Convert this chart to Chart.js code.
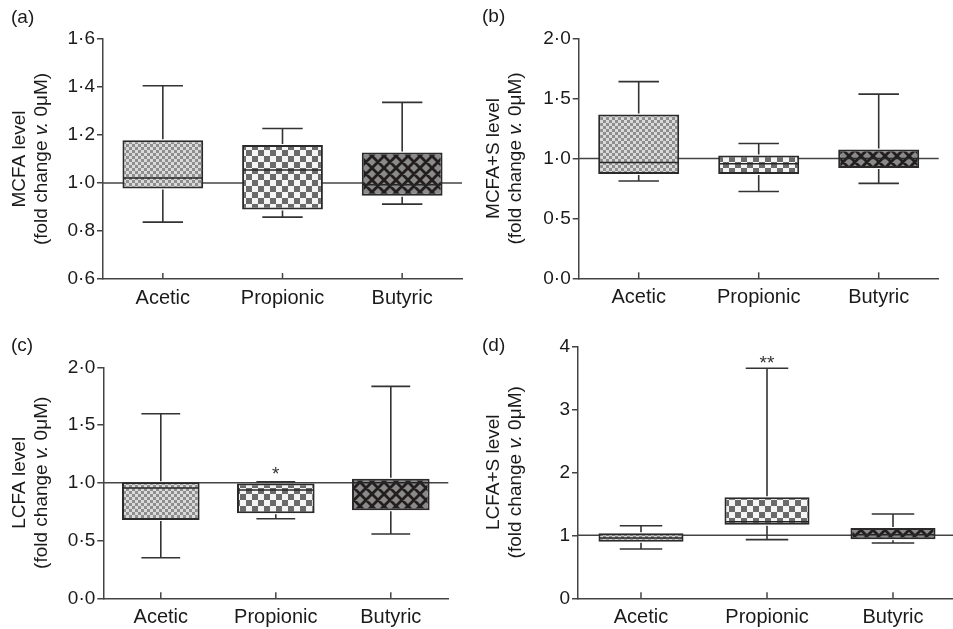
<!DOCTYPE html>
<html><head><meta charset="utf-8">
<script src="https://cdn.jsdelivr.net/npm/chart.js@4.4.0/dist/chart.umd.min.js"></script>
<style>
html,body{margin:0;padding:0;background:#fff;overflow:hidden}
#wrap{position:relative;width:953px;height:629px;overflow:hidden;background:#fff}
.p{position:absolute}
canvas{display:block}
</style></head><body>
<div id="wrap">
<div class="p" style="left:0;top:0"><canvas id="ca" width="476" height="314"></canvas></div>
<div class="p" style="left:477px;top:0"><canvas id="cb" width="476" height="314"></canvas></div>
<div class="p" style="left:0;top:314px"><canvas id="cc" width="476" height="315"></canvas></div>
<div class="p" style="left:477px;top:314px"><canvas id="cd" width="480" height="315"></canvas></div>
</div>
<script>
// ---------- DATA ----------
const categories = ['Acetic', 'Propionic', 'Butyric'];

// (a) MCFA level
const mcfaMin    = [0.837, 0.858, 0.912];
const mcfaQ1     = [0.977, 0.890, 0.947];
const mcfaMedian = [1.021, 1.054, 0.993];
const mcfaQ3     = [1.178, 1.158, 1.127];
const mcfaMax    = [1.405, 1.227, 1.336];
const mcfaStars  = ['', '', ''];

// (b) MCFA+S level
const mcfasMin    = [0.812, 0.725, 0.792];
const mcfasQ1     = [0.870, 0.870, 0.920];
const mcfasMedian = [0.967, 0.956, 1.000];
const mcfasQ3     = [1.367, 1.025, 1.075];
const mcfasMax    = [1.642, 1.125, 1.537];
const mcfasStars  = ['', '', ''];

// (c) LCFA level
const lcfaMin    = [0.351, 0.689, 0.557];
const lcfaQ1     = [0.678, 0.736, 0.762];
const lcfaMedian = [0.955, 0.938, 1.000];
const lcfaQ3     = [1.005, 0.995, 1.036];
const lcfaMax    = [1.598, 1.008, 1.835];
const lcfaStars  = ['', '*', ''];

// (d) LCFA+S level
const lcfasMin    = [0.783, 0.931, 0.878];
const lcfasQ1     = [0.899, 1.169, 0.937];
const lcfasMedian = [0.957, 1.216, 1.010];
const lcfasQ3     = [1.032, 1.603, 1.116];
const lcfasMax    = [1.152, 3.651, 1.338];
const lcfasStars  = ['', '**', ''];

// tick settings per panel [min, max, step]
const yRangeA = [0.6, 1.6, 0.2];
const yRangeB = [0.0, 2.0, 0.5];
const yRangeC = [0.0, 2.0, 0.5];
const yRangeD = [0, 4, 1];

// ---------- STYLE ----------
const FONT = '"Liberation Sans", Arial, Helvetica, sans-serif';
const TXT = '#1a1a1a';
const AX = '#444';

function makePattern(kind) {
  const c = document.createElement('canvas');
  const x = c.getContext('2d');
  if (kind === 0) {
    c.width = 6; c.height = 6;
    x.fillStyle = '#dadada'; x.fillRect(0, 0, 6, 6);
    x.fillStyle = '#8e8e8e'; x.fillRect(0, 0, 3, 3); x.fillRect(3, 3, 3, 3);
  } else if (kind === 1) {
    c.width = 12; c.height = 12;
    x.fillStyle = '#f4f4f4'; x.fillRect(0, 0, 12, 12);
    x.fillStyle = '#6a6a6a'; x.fillRect(0, 0, 6, 6); x.fillRect(6, 6, 6, 6);
  } else {
    c.width = 12; c.height = 12;
    x.fillStyle = '#8a8a8a'; x.fillRect(0, 0, 12, 12);
    x.strokeStyle = '#221e1e'; x.lineWidth = 2.8;
    x.beginPath();
    x.moveTo(-3, -3); x.lineTo(15, 15);
    x.moveTo(15, -3); x.lineTo(-3, 15);
    x.moveTo(-9, 3); x.lineTo(3, 15);
    x.moveTo(9, -3); x.lineTo(21, 9);
    x.moveTo(3, -3); x.lineTo(-9, 9);
    x.moveTo(21, 3); x.lineTo(9, 15);
    x.stroke();
  }
  return document.createElement('canvas').getContext('2d').createPattern(c, 'repeat');
}
const patterns = [makePattern(0), makePattern(1), makePattern(2)];

function fmt(v, dec) {
  return dec ? v.toFixed(dec).replace('.', '\u00B7') : String(Math.round(v));
}

const boxPlugin = {
  id: 'boxPlugin',
  beforeDatasetsDraw(chart) {
    const ctx = chart.ctx, a = chart.chartArea, y = chart.scales.y;
    const py = y.getPixelForValue(1);
    ctx.save();
    ctx.strokeStyle = AX; ctx.lineWidth = 1.5;
    ctx.beginPath(); ctx.moveTo(a.left, py); ctx.lineTo(a.right, py); ctx.stroke();
    ctx.restore();
  },
  afterDatasetsDraw(chart) {
    const o = chart.options.plugins.boxPlugin;
    const ctx = chart.ctx, a = chart.chartArea, xs = chart.scales.x, ys = chart.scales.y;
    const meta = chart.getDatasetMeta(0);
    ctx.save();
    ctx.lineCap = 'butt';
    for (let i = 0; i < categories.length; i++) {
      const cx = xs.getPixelForValue(i);
      const w = meta.data[i].width;
      const cap = w / 4;
      const pMin = ys.getPixelForValue(o.min[i]);
      const pQ1 = ys.getPixelForValue(o.q1[i]);
      const pMed = ys.getPixelForValue(o.med[i]);
      const pQ3 = ys.getPixelForValue(o.q3[i]);
      const pMax = ys.getPixelForValue(o.max[i]);
      ctx.strokeStyle = '#333'; ctx.lineWidth = 1.6;
      ctx.beginPath();
      ctx.moveTo(cx, pQ3 - 1); ctx.lineTo(cx, pMax);
      ctx.moveTo(cx - cap, pMax); ctx.lineTo(cx + cap, pMax);
      ctx.moveTo(cx, pQ1 + 1); ctx.lineTo(cx, pMin);
      ctx.moveTo(cx - cap, pMin); ctx.lineTo(cx + cap, pMin);
      ctx.stroke();
      ctx.strokeStyle = '#262626'; ctx.lineWidth = 1.5;
      ctx.beginPath();
      ctx.moveTo(cx - w / 2 + 1, pMed); ctx.lineTo(cx + w / 2 - 1, pMed);
      ctx.stroke();
      if (o.stars[i]) {
        ctx.fillStyle = '#333';
        ctx.font = '19px ' + FONT;
        ctx.textAlign = 'center'; ctx.textBaseline = 'alphabetic';
        ctx.fillText(o.stars[i], cx, pMax + o.starOff);
      }
      // inward category tick marks
      ctx.strokeStyle = AX; ctx.lineWidth = 1.5;
      ctx.beginPath(); ctx.moveTo(cx, a.bottom); ctx.lineTo(cx, a.bottom - 6); ctx.stroke();
    }
    ctx.restore();
  },
  afterDraw(chart) {
    const o = chart.options.plugins.boxPlugin;
    const ctx = chart.ctx, a = chart.chartArea;
    const cy = (a.top + a.bottom) / 2;
    ctx.save();
    ctx.fillStyle = TXT;
    ctx.font = '19px ' + FONT;
    ctx.textAlign = 'left'; ctx.textBaseline = 'middle';
    ctx.fillText(o.letter, o.letterX, o.letterY);
    ctx.translate(o.t1x, cy);
    ctx.rotate(-Math.PI / 2);
    ctx.textAlign = 'center'; ctx.textBaseline = 'middle';
    ctx.font = '19px ' + FONT;
    ctx.fillText(o.title, 0, 0);
    ctx.restore();
    ctx.save();
    ctx.fillStyle = TXT;
    ctx.translate(o.t2x, cy);
    ctx.rotate(-Math.PI / 2);
    ctx.textBaseline = 'middle'; ctx.textAlign = 'left';
    const parts = [['(fold change ', '19px ' + FONT], ['v.', 'italic 19px ' + FONT], [' 0\u03BCM)', '19px ' + FONT]];
    let total = 0;
    parts.forEach(p => { ctx.font = p[1]; total += ctx.measureText(p[0]).width; });
    let x = -total / 2;
    parts.forEach(p => { ctx.font = p[1]; ctx.fillText(p[0], x, 0); x += ctx.measureText(p[0]).width; });
    ctx.restore();
  }
};

function makeChart(id, w, h, area, range, dec, stats, meta) {
  new Chart(document.getElementById(id), {
    type: 'bar',
    data: {
      labels: categories,
      datasets: [{
        data: categories.map((c, i) => [stats.q1[i], stats.q3[i]]),
        backgroundColor: patterns,
        borderColor: '#2a2a2a',
        borderWidth: 2,
        borderSkipped: false,
        barPercentage: 0.675,
        categoryPercentage: 1
      }]
    },
    options: {
      responsive: false,
      animation: false,
      events: [],
      layout: { padding: { left: 0, right: w - area.r, top: area.t, bottom: 0 } },
      plugins: {
        legend: { display: false },
        tooltip: { enabled: false },
        boxPlugin: Object.assign({}, stats, meta)
      },
      scales: {
        x: {
          type: 'category',
          offset: true,
          grid: { display: false, drawTicks: false },
          border: { display: true, color: AX, width: 1.5 },
          ticks: { color: TXT, font: { family: FONT, size: 20 }, padding: 7, maxRotation: 0 },
          afterFit(s) { s.height = h - area.b; }
        },
        y: {
          min: range[0], max: range[1],
          ticks: {
            stepSize: range[2], color: TXT, font: { family: FONT, size: 19 }, padding: 2,
            callback: v => fmt(v, dec)
          },
          grid: { display: true, drawOnChartArea: false, drawTicks: true, tickLength: 6, color: AX, lineWidth: 1.5 },
          border: { display: true, color: AX, width: 1.5 },
          afterFit(s) { s.width = area.l; }
        }
      }
    },
    plugins: [boxPlugin]
  });
}

makeChart('ca', 476, 314, { l: 103, r: 462, t: 39, b: 279 }, yRangeA, 1,
  { min: mcfaMin, q1: mcfaQ1, med: mcfaMedian, q3: mcfaQ3, max: mcfaMax, stars: mcfaStars },
  { letter: '(a)', letterX: 11, letterY: 18, title: 'MCFA level', t1x: 20, t2x: 42, starOff: -2 });

makeChart('cb', 476, 314, { l: 101.7, r: 461.7, t: 38.7, b: 278.3 }, yRangeB, 1,
  { min: mcfasMin, q1: mcfasQ1, med: mcfasMedian, q3: mcfasQ3, max: mcfasMax, stars: mcfasStars },
  { letter: '(b)', letterX: 5, letterY: 17, title: 'MCFA+S level', t1x: 17, t2x: 39, starOff: -2 });

makeChart('cc', 476, 315, { l: 103.3, r: 448.3, t: 53.3, b: 284.3 }, yRangeC, 1,
  { min: lcfaMin, q1: lcfaQ1, med: lcfaMedian, q3: lcfaQ3, max: lcfaMax, stars: lcfaStars },
  { letter: '(c)', letterX: 11, letterY: 32, title: 'LCFA level', t1x: 20, t2x: 42, starOff: -2 });

makeChart('cd', 480, 315, { l: 101, r: 479, t: 32.3, b: 284.3 }, yRangeD, 0,
  { min: lcfasMin, q1: lcfasQ1, med: lcfasMedian, q3: lcfasQ3, max: lcfasMax, stars: lcfasStars },
  { letter: '(d)', letterX: 5, letterY: 32, title: 'LCFA+S level', t1x: 17, t2x: 39, starOff: 1 });
</script>
</body></html>
